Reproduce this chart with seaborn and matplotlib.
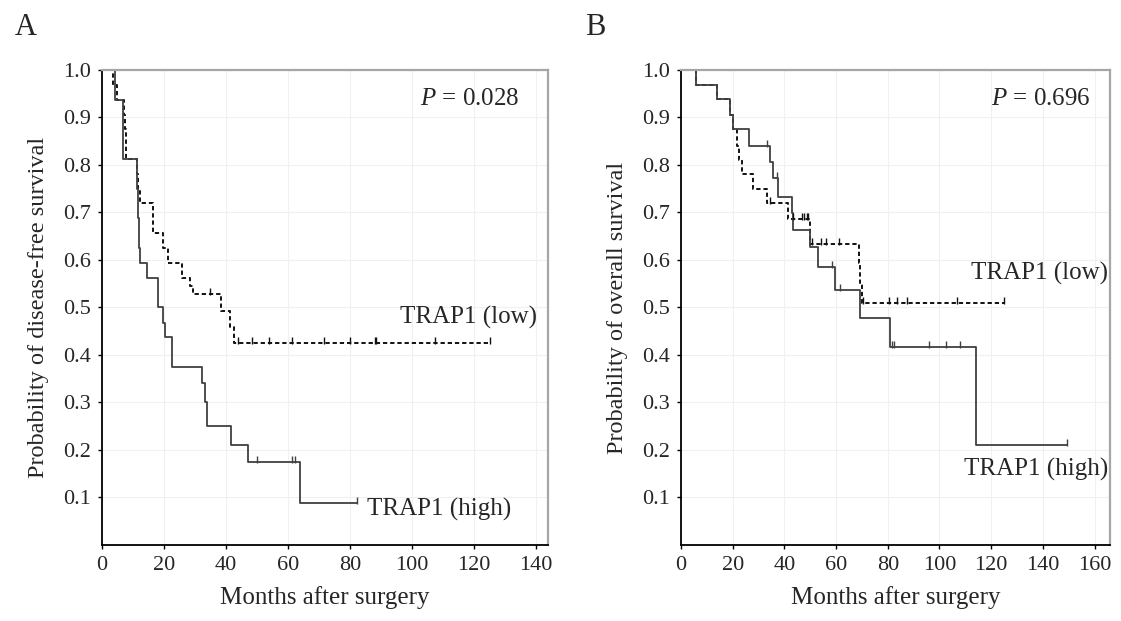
import numpy as np
import pandas as pd
import matplotlib.pyplot as plt
import seaborn as sns

# ## Data
# Panel A - disease-free survival, months after surgery
dfs_high_t = [0, 4.3, 6.9, 11.2, 11.5, 12.0, 12.2, 14.4, 18.2, 19.8, 20.3, 22.7, 32.4, 33.2, 34.0, 41.5, 47.2, 63.9]
dfs_high_s = [1.0, 0.9375, 0.8125, 0.75, 0.6875, 0.625, 0.594, 0.5625, 0.50, 0.467, 0.4375, 0.375, 0.34, 0.30, 0.25, 0.21, 0.175, 0.088]
dfs_high_cens = [50.1, 61.4, 62.3, 82.2]

dfs_low_t = [0, 3.7, 5.0, 7.0, 7.3, 7.6, 7.9, 11.2, 11.6, 12.2, 16.6, 19.8, 21.4, 25.8, 28.4, 29.5, 38.4, 41.3, 42.7]
dfs_low_s = [1.0, 0.969, 0.9375, 0.906, 0.875, 0.844, 0.8125, 0.78, 0.75, 0.719, 0.656, 0.625, 0.594, 0.5625, 0.545, 0.528, 0.493, 0.458, 0.425]
dfs_low_cens = [34.8, 44.0, 48.3, 54.0, 61.2, 71.6, 80.2, 88.0, 88.6, 107.4, 125.1]

# Panel B - overall survival
os_high_t = [0, 5.9, 13.8, 19.0, 20.3, 26.3, 34.4, 35.7, 37.7, 42.9, 43.5, 50.0, 53.2, 59.6, 69.3, 80.9, 114.2]
os_high_s = [1.0, 0.969, 0.938, 0.906, 0.875, 0.841, 0.807, 0.773, 0.733, 0.698, 0.663, 0.628, 0.586, 0.537, 0.477, 0.417, 0.21]
os_high_cens = [33.2, 37.0, 58.3, 61.6, 81.6, 82.3, 95.8, 102.6, 107.8, 149.3]

os_low_t = [0, 5.7, 13.8, 19.0, 20.3, 21.5, 22.5, 23.5, 28.0, 33.2, 41.5, 49.9, 68.7, 69.3, 70.0]
os_low_s = [1.0, 0.969, 0.938, 0.906, 0.875, 0.84, 0.81, 0.782, 0.75, 0.719, 0.687, 0.634, 0.594, 0.551, 0.509]
os_low_cens = [34.5, 43.5, 46.7, 47.4, 48.6, 49.3, 50.6, 54.0, 56.2, 61.0, 70.6, 80.3, 83.5, 87.4, 106.7, 124.8]

sns.set_style('white')
plt.rcParams['font.family'] = ['Liberation Serif', 'DejaVu Serif']
plt.rcParams['mathtext.fontset'] = 'custom'
plt.rcParams['mathtext.it'] = 'Liberation Serif:italic'
plt.rcParams['mathtext.rm'] = 'Liberation Serif'

# censor tick: short vertical mark sitting mostly above the line
censor_marker = [(0, -0.2), (0, 1.0)]


def km_frame(times, surv, cens):
    # extend the last step to the final censored time
    t = list(times) + [max(cens)]
    s = list(surv) + [surv[-1]]
    return pd.DataFrame({'t': t, 's': s})


def censor_frame(times, surv, cens):
    idx = np.searchsorted(times, cens, side='right') - 1
    return pd.DataFrame({'t': cens, 's': np.array(surv)[idx]})


def draw_curve(ax, times, surv, cens, color, ls, lw):
    sns.lineplot(data=km_frame(times, surv, cens), x='t', y='s', drawstyle='steps-post',
                 estimator=None, sort=False, color=color, linestyle=ls, linewidth=lw, ax=ax)
    sns.scatterplot(data=censor_frame(times, surv, cens), x='t', y='s', marker=censor_marker,
                    s=64, color=color, edgecolor=color, linewidth=1.0, ax=ax, zorder=3)


def style_panel(ax, xmax, ylabel):
    ax.set_xlim(0, xmax)
    ax.set_ylim(0, 1.0)
    ax.set_xticks(np.arange(0, xmax, 20))
    ax.set_yticks(np.arange(1, 11) / 10)
    ax.set_yticklabels([f'{v / 10:.1f}' for v in range(1, 11)])
    ax.grid(True, color='#f0f0f0', linewidth=0.8)
    ax.set_axisbelow(True)
    for side in ['left', 'bottom']:
        ax.spines[side].set_color('black')
        ax.spines[side].set_linewidth(1.3)
    for side in ['top', 'right']:
        ax.spines[side].set_color('#a6a6a6')
        ax.spines[side].set_linewidth(1.6)
    ax.tick_params(direction='out', length=3, width=1, color='black', labelsize=16, pad=5,
                   left=True, bottom=True)
    ax.set_xlabel('Months after surgery', fontsize=18, labelpad=8)
    ax.set_ylabel(ylabel, fontsize=17.5, labelpad=10)


fig = plt.figure(figsize=(11.21, 6.21), dpi=100)
ax_a = fig.add_axes([0.091, 0.1224, 0.3979, 0.7649])
ax_b = fig.add_axes([0.6075, 0.1224, 0.3827, 0.7649])

dash = (0, (2.2, 1.5))
draw_curve(ax_a, dfs_low_t, dfs_low_s, dfs_low_cens, '#111111', dash, 1.4)
draw_curve(ax_a, dfs_high_t, dfs_high_s, dfs_high_cens, '#404040', '-', 1.3)
style_panel(ax_a, 144, 'Probability of disease-free survival')
ax_a.text(134.8, 0.939, r'$P$ = 0.028', ha='right', va='center', fontsize=18)
ax_a.text(140.3, 0.478, 'TRAP1 (low)', ha='right', va='center', fontsize=18)
ax_a.text(85.5, 0.074, 'TRAP1 (high)', ha='left', va='center', fontsize=18)

draw_curve(ax_b, os_low_t, os_low_s, os_low_cens, '#111111', dash, 1.4)
draw_curve(ax_b, os_high_t, os_high_s, os_high_cens, '#404040', '-', 1.3)
style_panel(ax_b, 166, 'Probability of overall survival')
ax_b.text(158.3, 0.939, r'$P$ = 0.696', ha='right', va='center', fontsize=18)
ax_b.text(165.3, 0.571, 'TRAP1 (low)', ha='right', va='center', fontsize=18)
ax_b.text(165.3, 0.158, 'TRAP1 (high)', ha='right', va='center', fontsize=18)

fig.text(0.013, 0.955, 'A', fontsize=22, va='center', ha='left')
fig.text(0.522, 0.955, 'B', fontsize=22, va='center', ha='left')

fig.savefig('out.png', dpi=100)
